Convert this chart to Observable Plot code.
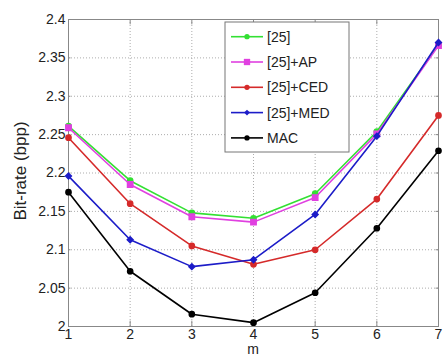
<!DOCTYPE html>
<html><head><meta charset="utf-8">
<script src="https://cdn.jsdelivr.net/npm/d3@7"></script>
<script src="https://cdn.jsdelivr.net/npm/@observablehq/plot@0.6"></script>
<style>
body{margin:0;background:#fff;}
#chart{position:relative;width:444px;height:357px;font-family:"Liberation Sans",Arial,sans-serif;}
</style>
</head><body><div id="chart"></div>
<script>
const m = [1,2,3,4,5,6,7];
const s25 = [2.261,2.190,2.148,2.141,2.173,2.254,2.367];
const sAP = [2.259,2.185,2.143,2.136,2.168,2.251,2.366];
const sCED = [2.246,2.160,2.105,2.081,2.100,2.166,2.275];
const sMED = [2.196,2.113,2.078,2.087,2.146,2.248,2.370];
const sMAC = [2.175,2.072,2.016,2.005,2.044,2.128,2.229];
const seriesNames = ["[25]","[25]+AP","[25]+CED","[25]+MED","MAC"];
const seriesColors = ["#33e033","#e040e0","#d52a2a","#1c1cc8","#000000"];
const seriesSymbols = ["circle","square","circle","diamond2","circle"];
const yTicks = [2,2.05,2.1,2.15,2.2,2.25,2.3,2.35,2.4];
const xTicks = [1,2,3,4,5,6,7];

const allSeries = [s25,sAP,sCED,sMED,sMAC];
const rows = [];
allSeries.forEach((vals,i)=>vals.forEach((v,j)=>rows.push({m:m[j],v,s:seriesNames[i]})));

const marks = [
  Plot.gridX(xTicks,{stroke:"#999",strokeOpacity:0.8,strokeDasharray:"1,2"}),
  Plot.gridY(yTicks,{stroke:"#999",strokeOpacity:0.8,strokeDasharray:"1,2"}),
  Plot.frame({stroke:"#888"}),
  Plot.ruleX(xTicks,{y1:2,y2:2.007,stroke:"#888"}),
  Plot.ruleX(xTicks,{y1:2.393,y2:2.4,stroke:"#888"}),
  Plot.ruleY(yTicks,{x1:1,x2:1.04,stroke:"#888"}),
  Plot.ruleY(yTicks,{x1:6.96,x2:7,stroke:"#888"}),
];
seriesNames.forEach((name,i)=>{
  const d = rows.filter(r=>r.s===name);
  marks.push(Plot.line(d,{x:"m",y:"v",stroke:seriesColors[i],strokeWidth:1.6}));
  marks.push(Plot.dot(d,{x:"m",y:"v",fill:seriesColors[i],stroke:seriesColors[i],symbol:seriesSymbols[i],r:seriesSymbols[i]==="square"?3:2.6}));
});

const plot = Plot.plot({
  width:444,height:357,
  marginLeft:68,marginRight:6,marginTop:19,marginBottom:31,
  style:{fontFamily:"Liberation Sans, Arial, sans-serif",fontSize:"14px",color:"#222",background:"#fff"},
  x:{domain:[1,7],ticks:xTicks,tickSize:0,tickPadding:3,tickFormat:d=>String(d),label:null},
  y:{domain:[2,2.4],ticks:yTicks,tickSize:0,tickPadding:3,tickFormat:d=>String(d),label:null},
  marks
});
document.getElementById("chart").appendChild(plot);

const svg = d3.select(plot);
// axis titles
svg.append("text").attr("x",253).attr("y",350).attr("dy","0.32em").attr("text-anchor","middle")
  .attr("font-size",14).attr("fill","#222").text("m");
svg.append("text").attr("transform","translate(20,171) rotate(-90)").attr("dy","0.35em").attr("text-anchor","middle")
  .attr("font-size",17).attr("fill","#222").text("Bit-rate (bpp)");

// legend
const lg = svg.append("g").attr("transform","translate(225,22)");
lg.append("rect").attr("width",124).attr("height",130).attr("fill","#fff").attr("stroke","#777");
seriesNames.forEach((name,i)=>{
  const y = 14.7 + i*25.3;
  lg.append("line").attr("x1",6).attr("x2",38).attr("y1",y).attr("y2",y).attr("stroke",seriesColors[i]).attr("stroke-width",1.6);
  const t = seriesSymbols[i]==="square"?d3.symbolSquare:seriesSymbols[i]==="diamond2"?d3.symbolDiamond2:d3.symbolCircle;
  const sym = d3.symbol().type(t).size(seriesSymbols[i]==="square"?40:22);
  lg.append("path").attr("d",sym()).attr("transform",`translate(22,${y})`).attr("fill",seriesColors[i]);
  lg.append("text").attr("x",42).attr("y",y).attr("dy","0.35em").attr("text-anchor","start")
    .attr("font-size",14).attr("fill","#222").text(name);
});
</script>
</body></html>
